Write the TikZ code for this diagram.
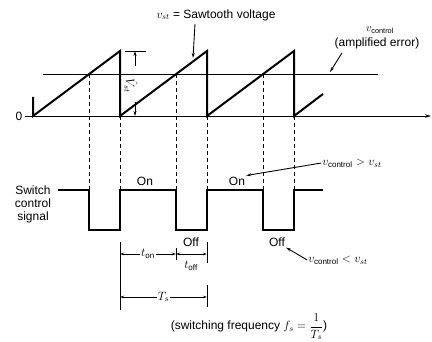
\documentclass[tikz,border=0pt]{standalone}
\usepackage{fontspec}
\usepackage{amsmath}
\setmainfont{Liberation Sans}
\usetikzlibrary{arrows.meta}
\begin{document}
\begin{tikzpicture}[x=1pt,y=-1pt,
  lbl/.style={font=\fontsize{12}{13}\selectfont, inner sep=1pt},
  small/.style={font=\fontsize{10.5}{12}\selectfont, inner sep=1pt},
  wave/.style={line width=2pt, line join=miter},
  thinln/.style={line width=0.9pt},
  dashln/.style={line width=0.8pt, dash pattern=on 4pt off 3pt},
  tip/.style={-{Stealth[length=5pt,width=3pt]}},
  dimln/.style={line width=0.7pt, {Stealth[length=4pt,width=2.5pt]}-{Stealth[length=4pt,width=2.5pt]}},
]
\useasboundingbox (0,0) rectangle (432,342);
% axis
\coordinate (ax0) at (25,116);
\coordinate (ax1) at (431,116);
\draw[thinln, -{Stealth[length=6pt,width=3.5pt]}] (ax0) -- (ax1);
\node[lbl] (zero) at (19,116) {0};
% control level
\coordinate (c0) at (43,74);
\coordinate (c1) at (378,74);
\draw[thinln] (c0) -- (c1);
% sawtooth
\draw[wave] (33,97) -- (33,116) -- (120,51) -- (120,116) -- (207,51) -- (207,116) -- (294,51) -- (294,116) -- (323,94);
% dashed projections
\foreach \x in {89,176,263} \draw[dashln] (\x,74) -- (\x,190);
\foreach \x in {120,207,294} \draw[dashln] (\x,116) -- (\x,190);
% switch signal
\draw[wave] (58,190) -- (89,190) -- (89,230) -- (120,230) -- (120,190) -- (176,190) -- (176,230) -- (207,230) -- (207,190) -- (263,190) -- (263,230) -- (294,230) -- (294,190) -- (323,190);
\node[lbl, align=center] (sw) at (33,204) {Switch\\control\\signal};
% top labels
\node[lbl] (vst) at (216,15) {$v_{st}$ = Sawtooth voltage};
\coordinate (vstT) at (193,58);
\draw[thinln, tip] (195,24) -- (vstT);
\node[small] (vc) at (380,30) {$v_{\text{control}}$};
\node[lbl] (amp) at (377,43) {(amplified error)};
\coordinate (vcT) at (330,72);
\draw[thinln, tip] (342,53) -- (vcT);
% amplitude
\draw[thinln] (125,51) -- (146,51);
\draw[thinln, tip] (135,66) -- (135,51);
\draw[thinln, tip] (135,102) -- (135,116);
\node[lbl, rotate=-90] (vhat) at (131,86) {$\hat{V}_{st}$};
% On / Off
\node[lbl] (on1) at (145,181) {On};
\node[lbl] (on2) at (237,181) {On};
\node[lbl] (off1) at (191,242) {Off};
\node[lbl] (off2) at (277,242) {Off};
\node[lbl] (gt) at (352,163) {$v_{\text{control}} > v_{st}$};
\draw[thinln, tip] (gt.west) -- (on2.north east);
\node[lbl] (lt) at (338,260) {$v_{\text{control}} < v_{st}$};
\draw[thinln, tip] (lt.west) -- (off2.south east);
% dimensions
\draw[thinln] (120,242) -- (120,310);
\draw[thinln] (207,242) -- (207,263);
\draw[thinln] (207,285) -- (207,307);
\draw[thinln] (176,248) -- (176,260);
\draw[dimln] (120,254) -- node[lbl, fill=white] (ton) {$t_{\text{on}}$} (176,254);
\draw[dimln] (176,254) -- (207,254);
\node[lbl] (toff) at (191,266) {$t_{\text{off}}$};
\draw[dimln] (120,297) -- node[lbl, fill=white] (ts) {$T_s$} (207,297);
\node[lbl] (freq) at (249,327) {(switching frequency $f_s = \dfrac{1}{T_s}$)};
\end{tikzpicture}
\end{document}
